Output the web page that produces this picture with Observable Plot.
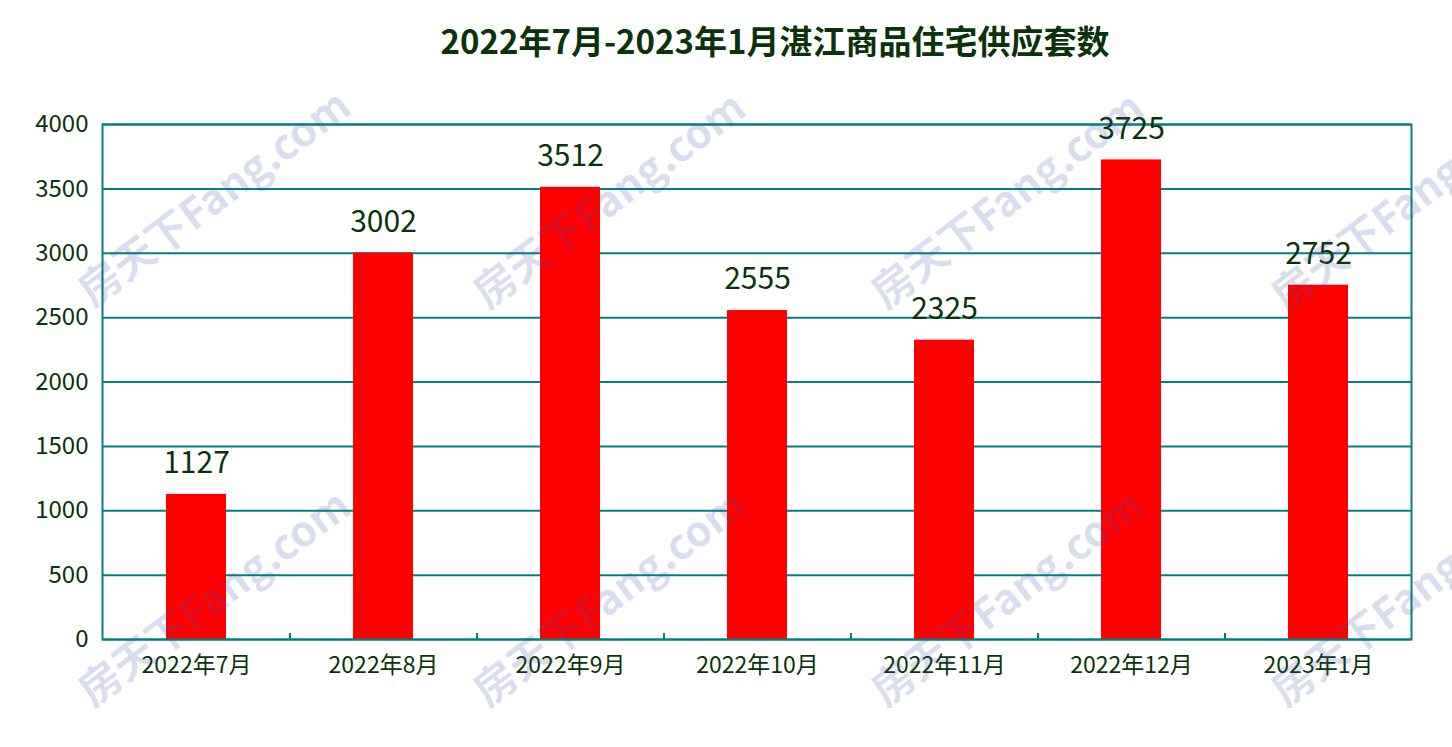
<!DOCTYPE html>
<html>
<head>
<meta charset="utf-8">
<script src="https://cdn.jsdelivr.net/npm/d3@7"></script>
<script src="https://cdn.jsdelivr.net/npm/@observablehq/plot@0.6"></script>
<style>
  html, body { margin: 0; padding: 0; background: #fff; }
  #wrap { position: relative; width: 1452px; height: 747px; overflow: hidden; font-family: "Noto Sans CJK SC", "Noto Sans", sans-serif; }
  #title { height: 80px; line-height: 80px; text-align: center; font-size: 33px; font-weight: bold; color: #0b330b; padding-left: 98px; box-sizing: border-box; }
  .wm { position: absolute; font-family: "Noto Sans CJK SC", sans-serif; font-weight: bold; font-size: 42px; color: rgba(60,75,160,0.19); white-space: nowrap; transform: translate(-50%, -50%) rotate(-37deg); pointer-events: none; }
</style>
</head>
<body>
<div id="wrap">
  <div id="title">2022年7月-2023年1月湛江商品住宅供应套数</div>
  <div id="chart"></div>
</div>
<script>
const categories = ["2022年7月", "2022年8月", "2022年9月", "2022年10月", "2022年11月", "2022年12月", "2023年1月"];
const values = [1127, 3002, 3512, 2555, 2325, 3725, 2752];
const yTicks = [0, 500, 1000, 1500, 2000, 2500, 3000, 3500, 4000];

const data = categories.map((c, i) => ({month: c, value: values[i]}));

const W = 1452, H = 667;
const mL = 102, mR = 41, mT = 44, mB = 108;
const step = (W - mL - mR) / categories.length;
const yMax = 4000;
const tickData = yMax * 6 / (H - mT - mB);
const teal = "#008080";
const ink = "#0b330b";

const chart = Plot.plot({
  width: W, height: H,
  marginLeft: mL, marginRight: mR, marginTop: mT, marginBottom: mB,
  style: {fontFamily: '"Noto Sans CJK SC", "Noto Sans", sans-serif', background: "#fff"},
  x: {domain: categories, paddingInner: 0.68, paddingOuter: 0.34, label: null},
  y: {domain: [0, yMax], label: null},
  marks: [
    Plot.gridY(yTicks, {stroke: teal, strokeOpacity: 1, strokeWidth: 2}),
    Plot.barY(data, {x: "month", y: "value", fill: "#ff0000"}),
    Plot.ruleX(categories.slice(1), {x: d => d, dx: -step / 2, y1: 0, y2: tickData, stroke: teal, strokeWidth: 2}),
    Plot.frame({stroke: teal, strokeWidth: 2}),
    Plot.axisY(yTicks, {tickSize: 0, tickPadding: 14, fontSize: 24, fill: ink, label: null, tickFormat: d => String(d)}),
    Plot.axisX({tickSize: 0, tickPadding: 17, fontSize: 23, fill: ink, label: null}),
    Plot.text(data, {x: "month", y: "value", text: d => String(d.value), dy: -31, lineAnchor: "middle", fontSize: 30, fill: ink})
  ]
});
document.getElementById("chart").appendChild(chart);

const wmPos = [[212,195],[607,197],[1005,197],[1405,200],[212,595],[607,595],[1005,595],[1405,595]];
const wrap = document.getElementById("wrap");
wmPos.forEach(([x, y]) => {
  const d = document.createElement("div");
  d.className = "wm";
  d.textContent = "房天下Fang.com";
  d.style.left = x + "px";
  d.style.top = y + "px";
  wrap.appendChild(d);
});
</script>
</body>
</html>
